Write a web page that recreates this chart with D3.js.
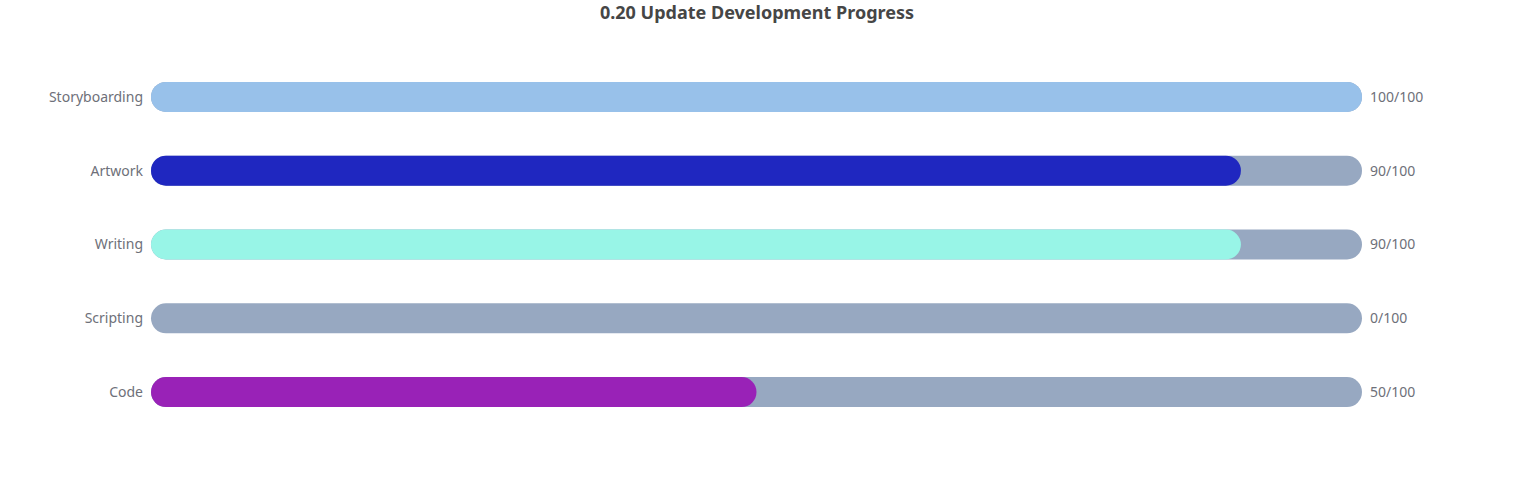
<!DOCTYPE html>
<html>
<head>
<meta charset="utf-8">
<script src="https://cdn.jsdelivr.net/npm/d3@7"></script>
<style>
  html, body { margin: 0; padding: 0; background: #fff; }
  svg text { font-family: "Noto Sans", "Open Sans", sans-serif; }
</style>
</head>
<body>
<svg id="chart" width="1514" height="500"></svg>
<script>
var categories = ['Storyboarding', 'Artwork', 'Writing', 'Scripting', 'Code'];
var values = [100, 90, 90, 0, 50];
var maxValue = 100;
var colors = ['#98c1ea', '#1f27c0', '#98f5e7', '#97a8c1', '#9922b7'];
var trackColor = '#97a8c1';

var svg = d3.select('#chart');
var plotLeft = 151, plotRight = 1362, plotTop = 60, plotBottom = 429;
var barH = 30;

var x = d3.scaleLinear().domain([0, maxValue]).range([plotLeft, plotRight]);
var y = d3.scaleBand().domain(categories).range([plotTop, plotBottom]);

svg.append('text')
    .attr('x', 757)
    .attr('y', 19)
    .attr('text-anchor', 'middle')
    .attr('font-size', 18)
    .attr('font-weight', 'bold')
    .attr('fill', '#464646')
    .text('0.20 Update Development Progress');

var rows = svg.selectAll('g.row')
    .data(categories)
    .enter()
    .append('g')
    .attr('class', 'row')
    .attr('transform', function (d) {
        return 'translate(0,' + (y(d) + y.bandwidth() / 2) + ')';
    });

// background track
rows.append('rect')
    .attr('x', x(0))
    .attr('y', -barH / 2)
    .attr('width', x(maxValue) - x(0))
    .attr('height', barH)
    .attr('rx', barH / 2)
    .attr('fill', trackColor);

// value bar
rows.filter(function (d, i) { return values[i] > 0; })
    .append('rect')
    .attr('x', x(0))
    .attr('y', -barH / 2)
    .attr('width', function (d) {
        var i = categories.indexOf(d);
        return x(values[i]) - x(0);
    })
    .attr('height', barH)
    .attr('rx', barH / 2)
    .attr('fill', function (d) { return colors[categories.indexOf(d)]; });

// category labels
rows.append('text')
    .attr('x', plotLeft - 8)
    .attr('dy', '0.35em')
    .attr('text-anchor', 'end')
    .attr('font-size', 14)
    .attr('fill', '#6e7079')
    .text(function (d) { return d; });

// value labels
rows.append('text')
    .attr('x', plotRight + 8)
    .attr('dy', '0.35em')
    .attr('font-size', 14)
    .attr('fill', '#6e7079')
    .text(function (d) { return values[categories.indexOf(d)] + '/' + maxValue; });
</script>
</body>
</html>
